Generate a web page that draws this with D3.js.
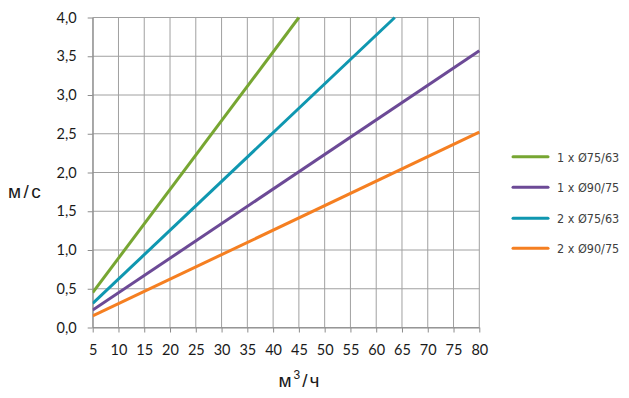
<!DOCTYPE html>
<html><head><meta charset="utf-8">
<script src="https://cdn.jsdelivr.net/npm/d3@7"></script>
<style>body{margin:0;background:#fff}svg{display:block}</style>
</head><body>
<svg id="c" width="629" height="398"></svg>
<script>
const xTicks = [5,10,15,20,25,30,35,40,45,50,55,60,65,70,75,80];
const yTicks = [0,0.5,1,1.5,2,2.5,3,3.5,4];
const seriesNames = ["1 x Ø75/63","1 x Ø90/75","2 x Ø75/63","2 x Ø90/75"];
const seriesColors = ["#77a632","#6c4a96","#0f97b0","#f57f21"];
const flowGreen = [5,45], velGreen = [0.45,4.0];
const flowPurple = [5,80], velPurple = [0.225,3.57];
const flowTeal = [5,63.6], velTeal = [0.31,4.0];
const flowOrange = [5,80], velOrange = [0.15,2.52];
const flows = [flowGreen, flowPurple, flowTeal, flowOrange];
const vels = [velGreen, velPurple, velTeal, velOrange];

const svg = d3.select("#c");
const L = 92.7, R = 479.3, T = 17.5, B = 327.5;
const x = d3.scaleLinear().domain([5,80]).range([L,R]);
const y = d3.scaleLinear().domain([0,4]).range([B,T]);
const font = "Lato, 'Open Sans', sans-serif";

// grid
svg.append("g").selectAll("line").data(xTicks).join("line")
  .attr("x1", d=>x(d)).attr("x2", d=>x(d)).attr("y1", T).attr("y2", B)
  .attr("stroke", "#a0a0a0").attr("stroke-width", 1);
svg.append("g").selectAll("line").data(yTicks).join("line")
  .attr("x1", L).attr("x2", R).attr("y1", d=>y(d)).attr("y2", d=>y(d))
  .attr("stroke", "#a0a0a0").attr("stroke-width", 1);

// axes
const xa = svg.append("g").attr("transform", `translate(0,${B})`)
  .call(d3.axisBottom(x).tickValues(xTicks).tickSize(5).tickSizeOuter(0).tickPadding(12));
const ya = svg.append("g").attr("transform", `translate(${L},0)`)
  .call(d3.axisLeft(y).tickValues(yTicks).tickSize(5).tickSizeOuter(0).tickPadding(11)
    .tickFormat(d=>d3.format(".1f")(d).replace(".", ",")));
[xa, ya].forEach(a=>{
  a.select(".domain").attr("stroke", "#8c8c8c");
  a.selectAll(".tick line").attr("stroke", "#8c8c8c");
  a.selectAll("text").attr("fill", "#1a1a1a").style("font-family", font).style("font-size", "14.5px");
});

// lines
svg.append("clipPath").attr("id","pc").append("rect")
  .attr("x", L).attr("y", T-2).attr("width", R-L+2).attr("height", B-T+2);
const line = d3.line().x(d=>x(d[0])).y(d=>y(d[1]));
seriesNames.forEach((n,i)=>{
  const pts = flows[i].map((f,j)=>[f, vels[i][j]]);
  svg.append("path").attr("d", line(pts)).attr("fill","none")
    .attr("stroke", seriesColors[i]).attr("stroke-width", 3).attr("clip-path","url(#pc)");
});

// axis titles
const tf = "'Liberation Sans', Arial, sans-serif";
svg.append("text").attr("x", 8).attr("y", 197.5).text("м/с")
  .style("font-family", tf).style("font-size", "19px").style("letter-spacing", "2.5px").attr("fill", "#1a1a1a");
const xt = svg.append("text").attr("x", 300).attr("y", 387).attr("text-anchor","middle")
  .style("font-family", tf).style("font-size", "19px").style("letter-spacing", "2px").attr("fill", "#1a1a1a");
xt.append("tspan").text("м");
xt.append("tspan").text("3").attr("dy", -8).style("font-size", "12px");
xt.append("tspan").text("/ч").attr("dy", 8);

// legend
const ly = [156.7, 187.3, 218.3, 248.3];
seriesNames.forEach((n,i)=>{
  svg.append("line").attr("x1", 513).attr("x2", 548).attr("y1", ly[i]).attr("y2", ly[i])
    .attr("stroke", seriesColors[i]).attr("stroke-width", 3).attr("stroke-linecap","round");
  svg.append("text").attr("x", 557).attr("y", ly[i]+5).text(n)
    .style("font-family", "'DejaVu Sans Condensed', 'DejaVu Sans', sans-serif").style("font-size", "12.5px").attr("fill", "#404040");
});
</script>
</body></html>
